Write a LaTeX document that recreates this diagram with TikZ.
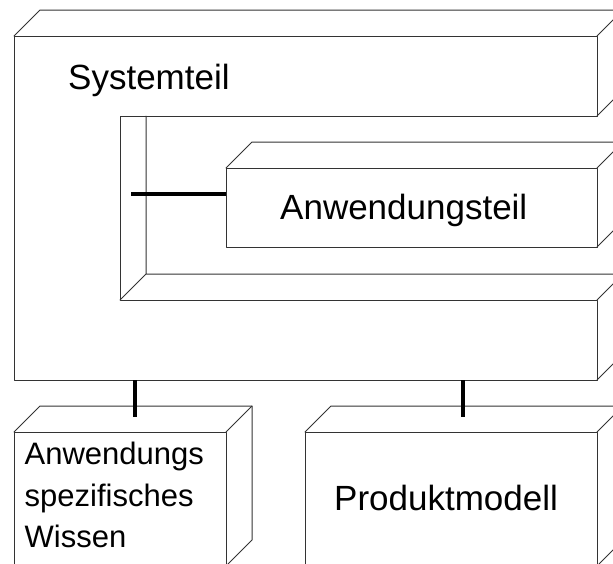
\documentclass[tikz,border=0pt]{standalone}
\usepackage{fontspec}
\setmainfont{Liberation Sans}
\begin{document}
\begin{tikzpicture}[x=1pt,y=-1pt, line join=round, line cap=round,
    box/.style={draw=black!80, line width=1pt},
    conn/.style={line width=3.2pt, line cap=butt},
    lbl/.style={font=\fontsize{35}{42}\selectfont, inner sep=0pt}]
  \def\d{26}
  \useasboundingbox (0,0) rectangle (613,563);
  \clip (0,0) rectangle (613,563);
  % Systemteil (C-Form mit Aussparung)
  \draw[box] (14,36) -- (597,36) -- (597,116) -- (120,116) -- (120,300)
    -- (597,300) -- (597,380) -- (14,380) -- cycle;
  \draw[box] (14,36) -- ++(\d,-\d) -- (623,10);
  \draw[box] (597,36) -- ++(\d,-\d) (597,116) -- ++(\d,-\d);
  \draw[box] (146,116) -- (146,274) -- (623,274) (120,300) -- ++(\d,-\d);
  \draw[box] (597,300) -- ++(\d,-\d) (597,380) -- ++(\d,-\d);
  \node[lbl, anchor=base west] (sys) at (68,89) {Systemteil};
  % Anwendungsteil
  \draw[box] (226,168) rectangle (597,247);
  \draw[box] (226,168) -- ++(\d,-\d) -- (623,142);
  \draw[box] (597,168) -- ++(\d,-\d) (597,247) -- ++(\d,-\d);
  \node[lbl, anchor=base west] (anw) at (280,219.5) {Anwendungsteil};
  % Anwendungsspezifisches Wissen
  \draw[box] (14,432) rectangle (226,566);
  \draw[box] (14,432) -- ++(\d,-\d) -- (252,406) -- (252,540) -- (226,566);
  \draw[box] (226,432) -- ++(\d,-\d);
  \node[font=\fontsize{31}{41.5}\selectfont, inner sep=0pt, align=left,
    anchor=north west] (wis) at (24.5,442) {Anwendungs\\spezifisches\\Wissen};
  % Produktmodell
  \draw[box] (305,432) rectangle (597,566);
  \draw[box] (305,432) -- ++(\d,-\d) -- (623,406);
  \draw[box] (597,432) -- ++(\d,-\d) (597,566) -- ++(\d,-\d);
  \node[lbl, anchor=base west] (pro) at (334,510.7) {Produktmodell};
  % Verbindungen
  \coordinate (sysw) at (131,194);
  \coordinate (anww) at (226,194);
  \coordinate (sysb1) at (135,380);
  \coordinate (wist) at (135,417);
  \coordinate (sysb2) at (463,380);
  \coordinate (prot) at (463,417);
  \draw[conn] (sysw) -- (anww);
  \draw[conn] (sysb1) -- (wist);
  \draw[conn] (sysb2) -- (prot);
\end{tikzpicture}
\end{document}
